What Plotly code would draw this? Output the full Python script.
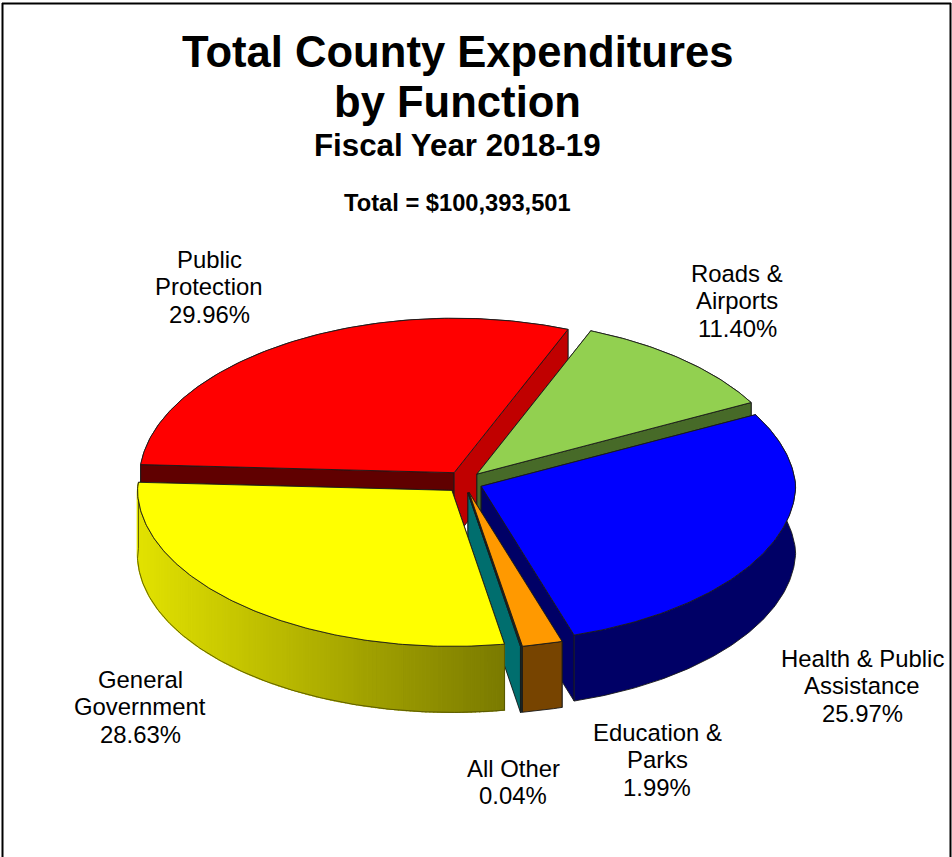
import math
import numpy as np
import plotly.graph_objects as go

# ---- data ----
categories = ["Public<br>Protection", "Roads &<br>Airports", "Health & Public<br>Assistance",
              "Education &<br>Parks", "All Other", "General<br>Government"]
percents = [29.96, 11.40, 25.97, 1.99, 0.04, 28.63]
title_lines = ["Total County Expenditures", "by Function"]
subtitle = "Fiscal Year 2018-19"
total_text = "Total = $100,393,501"

# ---- style / projection ----
W, H = 952, 857
CX, CY = 464, 482          # pie centre in the picture
RX, RY = 314.5, 156        # ellipse radii
EX, EY = 18.6, 11          # explosion
DEPTH = 66
START = -87                # clockwise from top
FONT = "Liberation Sans"
top_colors = ["#FF0000", "#92D050", "#0000FF", "#FF9900", "#006E6E", "#FFFF00"]
wall_colors = ["#C00000", "#476A28", "#000066", "#774400", "#006E6E", "#808000"]
left_wall_colors = ["#600000", "#476A28", "#000066", "#774400", "#006E6E", "#808000"]
draw_order = [0, 1, 2, 3, 4, 5]
back_slices = {0, 1}
label_pos = [(209, 259), (737, 273), (862, 658), (657, 732), (513, 768), (140, 679)]
LABEL_STEP = 27.5
EDGE = "#1a1a1a"
WARP_KNOTS = ([-90, 22, 65, 90, 180, 270], [0, -1.0, -2.4, 0, 2.8, 0])


def warp(t):
    """Slight perspective: the pie's angles are turned a little at front and back."""
    t2 = (t + 90) % 360 - 90
    return t + float(np.interp(t2, *WARP_KNOTS))


def rim(t, ox, oy, dz=0):
    w = math.radians(warp(t))
    c = math.cos(w)
    sx = 1 - 0.038 * max(0.0, c) - 0.015 * max(0.0, -c)
    sy = 1 - 0.01 * max(0.0, c)
    return ox + RX * sx * math.sin(w), oy - RY * sy * c + dz


def poly(fig, pts, fill=None, line=None, width=0.9):
    xs = [p[0] for p in pts] + [pts[0][0]]
    ys = [p[1] for p in pts] + [pts[0][1]]
    fig.add_trace(go.Scatter(
        x=xs, y=ys, mode="lines", fill="toself" if fill else "none",
        fillcolor=fill, hoverinfo="skip", showlegend=False,
        line=dict(color=line or "rgba(0,0,0,0)", width=width if line else 0)))


fig = go.Figure()

total = sum(percents)
spans = []
a = START
for p in percents:
    b = a + p / total * 360
    spans.append((a, b))
    a = b


def outer_wall(i, n, top_edge, low_edge):
    if i == 5:
        # yellow wall shades from light on the left to dark on the right
        for k in range(n):
            f = (top_edge[k][0] + top_edge[k + 1][0]) / 2
            f = max(0.0, min(1.0, (f - 137) / (505 - 137)))
            v = int(round(226 - f * (226 - 122)))
            col = f"rgb({v},{v},0)"
            poly(fig, [top_edge[k], top_edge[k + 1], low_edge[k + 1], low_edge[k]], col, col, 1.2)
        poly(fig, top_edge + low_edge[::-1], None, "#555500", 0.9)
    else:
        poly(fig, top_edge + low_edge[::-1], wall_colors[i], EDGE)


for i in draw_order:
    t0, t1 = spans[i]
    mid = math.radians((t0 + t1) / 2)
    ox = CX + EX * math.sin(mid)
    oy = CY - EY * math.cos(mid)
    n = max(3, int((t1 - t0) / 0.75))
    ts = [t0 + (t1 - t0) * k / n for k in range(n + 1)]
    top_edge = [rim(t, ox, oy) for t in ts]
    low_edge = [rim(t, ox, oy, DEPTH) for t in ts]
    if i in back_slices:
        outer_wall(i, n, top_edge, low_edge)
    # cut faces
    for t, col in ((t0, left_wall_colors[i]), (t1, wall_colors[i])):
        r = rim(t, ox, oy)
        poly(fig, [(ox, oy), r, (r[0], r[1] + DEPTH), (ox, oy + DEPTH)], col, EDGE)
    if i not in back_slices:
        outer_wall(i, n, top_edge, low_edge)
    # top face
    poly(fig, [(ox, oy)] + top_edge, top_colors[i], EDGE)

annotations = []


def text(x, y, s, size, bold=False):
    annotations.append(dict(
        x=x, y=y, xref="x", yref="y", text=f"<b>{s}</b>" if bold else s, showarrow=False,
        xanchor="center", yanchor="middle", font=dict(family=FONT, size=size, color="#000000")))


text(457.5, 52, title_lines[0], 43.6, True)
text(457.5, 102, title_lines[1], 43.6, True)
text(457.5, 145, subtitle, 31.3, True)
text(457, 203, total_text, 23.7, True)

for cat, pct, (lx, ly) in zip(categories, percents, label_pos):
    lines = cat.split("<br>") + [f"{pct:.2f}%"]
    for k, ln in enumerate(lines):
        text(lx, ly + k * LABEL_STEP, ln, 23.9)

frame = [dict(type="line", xref="x", yref="y", x0=2.5, x1=2.5, y0=3, y1=H, line=dict(color="black", width=2)),
         dict(type="line", xref="x", yref="y", x0=2, x1=951, y0=3.5, y1=3.5, line=dict(color="black", width=2)),
         dict(type="line", xref="x", yref="y", x0=950.5, x1=950.5, y0=3, y1=H, line=dict(color="black", width=2))]

fig.update_layout(
    width=W, height=H, margin=dict(l=0, r=0, t=0, b=0), autosize=False,
    paper_bgcolor="white", plot_bgcolor="white", showlegend=False,
    xaxis=dict(range=[0, W], visible=False, fixedrange=True),
    yaxis=dict(range=[H, 0], visible=False, fixedrange=True),
    annotations=annotations, shapes=frame)

fig.write_html("out.html", config={"displayModeBar": False},
               post_script="document.body.style.margin='0';document.body.style.overflow='hidden';")
